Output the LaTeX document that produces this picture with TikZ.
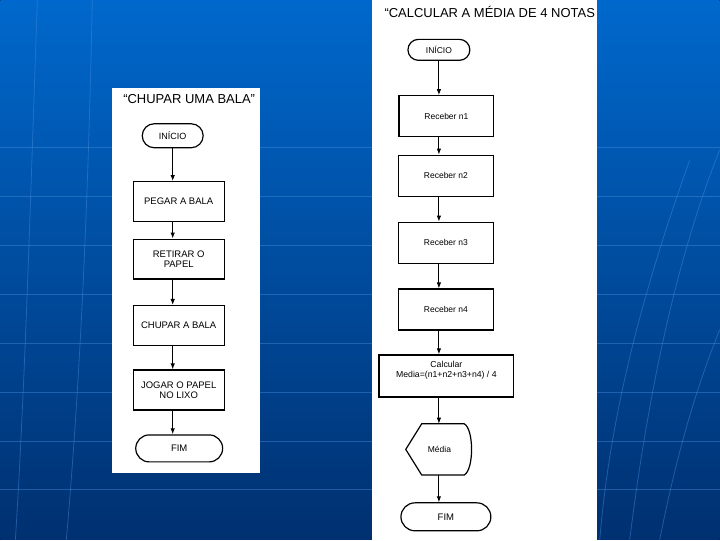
\documentclass[tikz,border=0pt]{standalone}
\usepackage{fontspec}
\setmainfont{Liberation Sans}
\usetikzlibrary{shapes.misc, arrows.meta, positioning}

\definecolor{slidetop}{RGB}{0,104,204}
\definecolor{slidebot}{RGB}{0,48,112}
\definecolor{globeline}{RGB}{70,140,220}

\begin{document}
\begin{tikzpicture}[
  x=1pt, y=-1pt,
  procbox/.style={rectangle, draw=black, line width=1.2pt, fill=white,
              minimum width=91pt, minimum height=40pt, align=center,
              inner sep=2pt, font=\fontsize{9.5}{10}\selectfont},
  termbox/.style={rounded rectangle, draw=black, line width=1.2pt, fill=white,
              minimum height=24pt, inner sep=2pt, font=\fontsize{8.5}{9.5}\selectfont},
  recbox/.style={procbox, minimum width=95pt, minimum height=41pt,
              font=\fontsize{8.5}{9.5}\selectfont},
  titletext/.style={font=\fontsize{13}{14}\selectfont},
  arrow/.style={-{Latex[length=6pt,width=4.5pt]}, line width=1pt},
  globe/.style={globeline, line width=0.8pt, opacity=0.45}
]
% background slide
\fill[top color=slidetop, bottom color=slidebot] (0,0) rectangle (720,540);
\foreach \yy in {147,196,245,294,343,392,441,490}
  \draw[globe] (0,\yy) -- (720,\yy);
\draw[globe] (37,0) .. controls (30,200) and (25,380) .. (15,540);
\draw[globe] (92,0) .. controls (88,200) and (80,380) .. (66,540);
\draw[globe] (630,540) .. controls (650,380) and (680,250) .. (720,150);
\draw[globe] (600,540) .. controls (610,420) and (640,300) .. (690,160);
\draw[globe] (660,540) .. controls (680,440) and (700,380) .. (720,330);

% left panel
\fill[white] (112,88) rectangle (260,473);
\node[titletext] (ttl1) at (189,99) {“CHUPAR UMA BALA”};
\node[termbox, minimum width=65pt, font=\fontsize{9}{10}\selectfont] (ini1) at (172.5,135.5) {INÍCIO};
\node[procbox] (peg) at (178.5,201.5) {PEGAR A BALA};
\node[procbox] (ret) at (178.5,259) {RETIRAR O\\PAPEL};
\node[procbox] (chu) at (178.5,325.5) {CHUPAR A BALA};
\node[procbox] (jog) at (178.5,390) {JOGAR O PAPEL\\NO LIXO};
\node[termbox, minimum width=91pt, minimum height=27pt, font=\fontsize{9.5}{10}\selectfont] (fim1) at (179,448.5) {FIM};
\draw[arrow] (ini1.south) -- (ini1.south |- peg.north);
\draw[arrow] (ini1.south |- peg.south) -- (ini1.south |- ret.north);
\draw[arrow] (ini1.south |- ret.south) -- (ini1.south |- chu.north);
\draw[arrow] (ini1.south |- chu.south) -- (ini1.south |- jog.north);
\draw[arrow] (ini1.south |- jog.south) -- (ini1.south |- fim1.north);

% right panel
\fill[white] (372,0) rectangle (597,540);
\node[titletext, anchor=west] (ttl2) at (381,12) {“CALCULAR A MÉDIA DE 4 NOTAS};
\node[termbox, minimum width=66pt, minimum height=21pt] (ini2) at (439,49.5) {INÍCIO};
\node[recbox] (rn1) at (446.5,116) {Receber n1};
\node[recbox] (rn2) at (446,175.5) {Receber n2};
\node[recbox] (rn3) at (446,242.5) {Receber n3};
\node[recbox] (rn4) at (446,309.5) {Receber n4};
\node[procbox, minimum width=135pt, minimum height=42pt, font=\fontsize{8.7}{9.7}\selectfont] (calc) at (446.5,376)
  {Calcular\\Media=(n1+n2+n3+n4) / 4\\[3pt]};
\node[minimum width=67pt, minimum height=51pt, inner sep=0pt,
  font=\fontsize{8.5}{9.5}\selectfont] (media) at (439.5,449.5) {Média};
\draw[line width=1.2pt] (media.west) -- ([xshift=16pt]media.north west)
  -- ([xshift=-9pt]media.north east)
  .. controls ([xshift=1pt,yshift=-5pt]media.north east) and ([xshift=1pt,yshift=5pt]media.south east)
  .. ([xshift=-9pt]media.south east)
  -- ([xshift=16pt]media.south west) -- cycle;
\node[termbox, minimum width=94pt, minimum height=28pt, font=\fontsize{9.5}{10}\selectfont] (fim2) at (446,517) {FIM};
\draw[arrow] (ini2.south) -- (ini2.south |- rn1.north);
\draw[arrow] (ini2.south |- rn1.south) -- (ini2.south |- rn2.north);
\draw[arrow] (ini2.south |- rn2.south) -- (ini2.south |- rn3.north);
\draw[arrow] (ini2.south |- rn3.south) -- (ini2.south |- rn4.north);
\draw[arrow] (ini2.south |- rn4.south) -- (ini2.south |- calc.north);
\draw[arrow] (ini2.south |- calc.south) -- (ini2.south |- media.north);
\draw[arrow] (ini2.south |- media.south) -- (ini2.south |- fim2.north);
\end{tikzpicture}
\end{document}
